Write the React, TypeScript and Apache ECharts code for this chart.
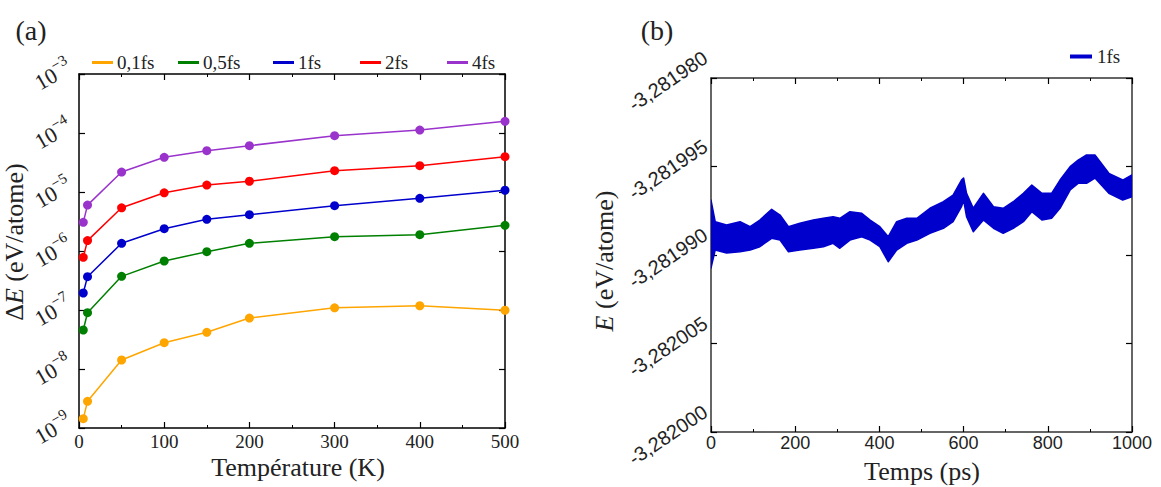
import React, { useEffect, useRef } from "react";
import * as echarts from "echarts";

// Panel (a): energy drift vs temperature for several time steps
const temperatures = [5, 10, 50, 100, 150, 200, 300, 400, 500];
const drift01fs = [1.44e-9, 2.83e-9, 1.42e-8, 2.79e-8, 4.19e-8, 7.3e-8, 1.09e-7, 1.18e-7, 9.9e-8];
const drift05fs = [4.58e-8, 9.0e-8, 3.72e-7, 6.77e-7, 9.74e-7, 1.35e-6, 1.75e-6, 1.89e-6, 2.72e-6];
const drift1fs = [1.94e-7, 3.67e-7, 1.35e-6, 2.39e-6, 3.44e-6, 4.13e-6, 5.86e-6, 7.8e-6, 1.07e-5];
const drift2fs = [7.8e-7, 1.5e-6, 5.4e-6, 9.7e-6, 1.31e-5, 1.52e-5, 2.3e-5, 2.79e-5, 3.97e-5];
const drift4fs = [3.06e-6, 6.0e-6, 2.18e-5, 3.87e-5, 5.02e-5, 6.1e-5, 9.0e-5, 1.12e-4, 1.58e-4];
const stepNames = ["0,1fs", "0,5fs", "1fs", "2fs", "4fs"];
const stepColors = ["#ffa500", "#008000", "#0000cc", "#ff0000", "#9933cc"];
const legendLefts = [92, 178, 273, 360, 447];
const decadeExponents = [-9, -8, -7, -6, -5, -4, -3];

// Panel (b): energy trace for 1fs, given as upper/lower envelope of the fluctuations
const energyTickValues = [0, 1, 2, 3, 4];
const energyTickLabels = ["-3,282000", "-3,282005", "-3,281990", "-3,281995", "-3,281980"];
const timePs = [0, 10, 37, 69, 93, 116, 144, 164, 184, 211, 243, 267, 290, 306, 330, 358, 378, 401, 421, 441, 465, 489, 520, 552, 575, 595, 600, 607, 623, 647, 671, 694, 718, 742, 762, 786, 809, 829, 853, 872, 892, 912, 945, 978, 1000];
const energyUpper = [2.621, 2.376, 2.339, 2.376, 2.32, 2.395, 2.516, 2.452, 2.32, 2.358, 2.395, 2.415, 2.433, 2.415, 2.489, 2.471, 2.395, 2.32, 2.207, 2.376, 2.415, 2.415, 2.528, 2.602, 2.678, 2.847, 2.87, 2.697, 2.528, 2.697, 2.546, 2.528, 2.602, 2.697, 2.791, 2.697, 2.697, 2.847, 2.998, 3.073, 3.13, 3.13, 2.923, 2.847, 2.904];
const energyLower = [1.853, 2.056, 2.023, 2.037, 2.056, 2.094, 2.189, 2.169, 2.037, 2.056, 2.076, 2.094, 2.132, 2.076, 2.169, 2.207, 2.169, 2.094, 1.924, 2.056, 2.132, 2.169, 2.245, 2.302, 2.376, 2.546, 2.621, 2.433, 2.263, 2.395, 2.302, 2.245, 2.302, 2.376, 2.489, 2.395, 2.415, 2.528, 2.734, 2.81, 2.81, 2.87, 2.697, 2.621, 2.659];
const traceColor = "#0000cc";

const SERIF = "'Liberation Serif', 'Times New Roman', serif";
const SANS = "'Liberation Sans', Arial, sans-serif";
const INK = "#222";

export default function App() {
  const ref = useRef<HTMLDivElement>(null);

  useEffect(() => {
    if (!ref.current) return;
    const chart = echarts.init(ref.current, null, { renderer: "svg" });
    const drifts = [drift01fs, drift05fs, drift1fs, drift2fs, drift4fs];

    const frameA = { show: true, onZero: false, lineStyle: { color: "#000", width: 1.5 } };
    const frameB = { show: true, onZero: false, lineStyle: { color: "#333", width: 1.5 } };
    const tickIn = { show: true, inside: true, length: 6, lineStyle: { color: "#000", width: 1.2 } };
    const minorIn = { show: true, splitNumber: 2, length: 3, lineStyle: { color: "#000", width: 1 } };

    const option: any = {
      animation: false,
      backgroundColor: "#fff",
      grid: [
        { left: 79, top: 74, width: 426, height: 354, outerBoundsMode: "none" },
        { left: 711, top: 78, width: 421, height: 354, outerBoundsMode: "none" },
      ],
      legend: [
        ...stepNames.map((name, k) => ({
          left: legendLefts[k],
          top: 53,
          padding: 0,
          icon: "rect",
          itemWidth: 21,
          itemHeight: 3,
          selectedMode: false,
          textStyle: { fontFamily: SERIF, fontSize: 19, color: INK, padding: [0, 0, 0, -1] },
          data: [{ name, itemStyle: { color: stepColors[k] } }],
        })),
        {
          left: 1070,
          top: 47,
          padding: 0,
          icon: "rect",
          itemWidth: 22,
          itemHeight: 4,
          selectedMode: false,
          textStyle: { fontFamily: SERIF, fontSize: 19, color: INK },
          data: [{ name: "1fs ", itemStyle: { color: traceColor } }],
        },
      ],
      xAxis: [
        {
          gridIndex: 0, type: "value", min: 0, max: 500, interval: 100, position: "bottom",
          axisLine: frameA, axisTick: tickIn, minorTick: minorIn, splitLine: { show: false },
          axisLabel: { fontFamily: SERIF, fontSize: 19, color: INK, margin: 4 },
        },
        {
          gridIndex: 0, type: "value", min: 0, max: 500, interval: 100, position: "top",
          axisLine: frameA, axisTick: tickIn, minorTick: minorIn, splitLine: { show: false },
          axisLabel: { show: false },
        },
        {
          gridIndex: 1, type: "value", min: 0, max: 1000, interval: 200, position: "bottom",
          axisLine: frameB, axisTick: tickIn, minorTick: minorIn, splitLine: { show: false },
          axisLabel: { fontFamily: SANS, fontSize: 18, color: INK, margin: 2, formatter: (v: number) => String(v) },
        },
        {
          gridIndex: 1, type: "value", min: 0, max: 1000, interval: 200, position: "top",
          axisLine: frameB, axisTick: tickIn, minorTick: minorIn, splitLine: { show: false },
          axisLabel: { show: false },
        },
      ],
      yAxis: [
        {
          gridIndex: 0, type: "log", logBase: 10, min: 1e-9, max: 1e-3, splitNumber: 6, position: "left",
          axisLine: frameA, axisTick: tickIn, splitLine: { show: false }, axisLabel: { show: false },
        },
        {
          gridIndex: 0, type: "log", logBase: 10, min: 1e-9, max: 1e-3, splitNumber: 6, position: "right",
          axisLine: frameA, axisTick: tickIn, splitLine: { show: false }, axisLabel: { show: false },
        },
        {
          gridIndex: 1, type: "value", min: 0, max: 4, interval: 1, position: "left",
          axisLine: frameB, axisTick: tickIn, splitLine: { show: false }, axisLabel: { show: false },
        },
        {
          gridIndex: 1, type: "value", min: 0, max: 4, interval: 1, position: "right",
          axisLine: frameB, axisTick: tickIn, splitLine: { show: false }, axisLabel: { show: false },
        },
      ],
      series: [
        ...stepNames.map((name, k) => ({
          type: "line",
          name,
          xAxisIndex: 0,
          yAxisIndex: 0,
          color: stepColors[k],
          data: temperatures.map((t, i) => [t, drifts[k][i]]),
          symbol: "circle",
          symbolSize: 9,
          lineStyle: { width: 1.5, color: stepColors[k] },
          itemStyle: { color: stepColors[k] },
          z: 3 + k,
        })),
        {
          // fluctuation band: upper envelope forward, lower envelope back
          type: "custom",
          name: "1fs ",
          xAxisIndex: 2,
          yAxisIndex: 2,
          color: traceColor,
          clip: true,
          data: [[0, 0]],
          renderItem: (_params: any, api: any) => {
            const pts: number[][] = [];
            timePs.forEach((t, i) => pts.push(api.coord([t, energyUpper[i]])));
            for (let i = timePs.length - 1; i >= 0; i--) pts.push(api.coord([timePs[i], energyLower[i]]));
            return {
              type: "polygon",
              shape: { points: pts },
              style: { fill: traceColor, stroke: traceColor, lineWidth: 1.5, lineJoin: "round" },
            };
          },
        },
      ],
    };

    chart.setOption(option);

    // Tilted y tick labels, rotated about their centre and placed from the axes' own scales
    const decadeLabels = decadeExponents.map((e) => {
      const y = chart.convertToPixel({ yAxisIndex: 0 }, Math.pow(10, e)) as number;
      return {
        type: "text", x: 52, y: y - 1, rotation: (30 * Math.PI) / 180,
        style: {
          text: `{b|10}{s|−${-e}}`,
          textAlign: "center", textVerticalAlign: "middle",
          rich: {
            b: { fontFamily: SERIF, fontSize: 22, fill: INK, lineHeight: 26, verticalAlign: "bottom" },
            s: { fontFamily: SERIF, fontSize: 15, fill: INK, lineHeight: 15, verticalAlign: "top" },
          },
        },
      };
    });
    const energyLabels = energyTickValues.map((v, i) => {
      const y = chart.convertToPixel({ yAxisIndex: 2 }, v) as number;
      return {
        type: "text", x: 668, y: y + 3, rotation: (34 * Math.PI) / 180,
        style: { text: energyTickLabels[i], font: `20px ${SANS}`, fill: INK, textAlign: "center", textVerticalAlign: "middle" },
      };
    });

    chart.setOption({
      graphic: [
        { type: "text", x: 31, y: 30, style: { text: "(a)", font: `28px ${SERIF}`, fill: INK, textAlign: "center", textVerticalAlign: "middle" } },
        { type: "text", x: 657, y: 30, style: { text: "(b)", font: `28px ${SERIF}`, fill: INK, textAlign: "center", textVerticalAlign: "middle" } },
        { type: "text", x: 298, y: 467, style: { text: "Température (K)", font: `26px ${SERIF}`, fill: INK, textAlign: "center", textVerticalAlign: "middle" } },
        { type: "text", x: 922, y: 471, style: { text: "Temps (ps)", font: `26px ${SERIF}`, fill: INK, textAlign: "center", textVerticalAlign: "middle" } },
        {
          type: "text", x: 14, y: 242, rotation: Math.PI / 2,
          style: {
            text: "{n|Δ}{i|E}{n| (eV/atome)}",
            textAlign: "center", textVerticalAlign: "middle",
            rich: {
              n: { fontFamily: SERIF, fontSize: 26, fill: INK },
              i: { fontFamily: SERIF, fontSize: 26, fontStyle: "italic", fill: INK },
            },
          },
        },
        {
          type: "text", x: 604, y: 261, rotation: Math.PI / 2,
          style: {
            text: "{i|E}{n| (eV/atome)}",
            textAlign: "center", textVerticalAlign: "middle",
            rich: {
              n: { fontFamily: SERIF, fontSize: 26, fill: INK },
              i: { fontFamily: SERIF, fontSize: 26, fontStyle: "italic", fill: INK },
            },
          },
        },
        ...decadeLabels,
        ...energyLabels,
      ],
    });

    return () => chart.dispose();
  }, []);

  return <div ref={ref} style={{ position: "absolute", left: 0, top: 0, width: 1161, height: 487 }} />;
}
